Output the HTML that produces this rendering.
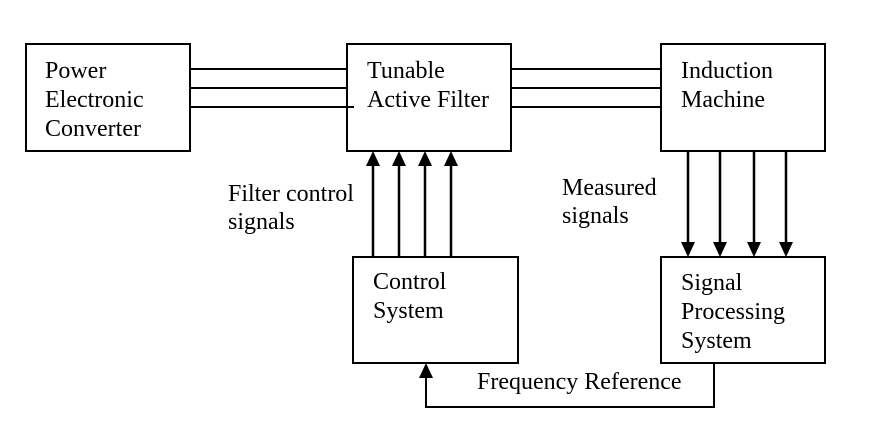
<!DOCTYPE html>
<html><head><style>
body{margin:0;background:#fff;}
svg text{font-family:"Liberation Serif",serif;font-size:24px;fill:#000;}
</style></head><body>
<svg width="871" height="427" viewBox="0 0 871 427" xmlns="http://www.w3.org/2000/svg">
<g fill="none" stroke="#000" stroke-width="2">
<rect x="26" y="44" width="164" height="107"/>
<rect x="347" y="44" width="164" height="107"/>
<rect x="661" y="44" width="164" height="107"/>
<rect x="353" y="257" width="165" height="106"/>
<rect x="661" y="257" width="164" height="106"/>
<path d="M190,69H347M190,88H347M190,107H354M511,69H661M511,88H661M511,107H661"/>
<path d="M714,363V407H426V378"/>
</g>
<g fill="none" stroke="#000" stroke-width="2.5">
<path d="M373,257V165M399,257V165M425,257V165M451,257V165"/>
<path d="M688,151V243M720,151V243M754,151V243M786,151V243"/>
</g>
<g fill="#000">
<path d="M366,166L373,151L380,166z"/><path d="M392,166L399,151L406,166z"/><path d="M418,166L425,151L432,166z"/><path d="M444,166L451,151L458,166z"/>
<path d="M681,242L688,257L695,242z"/><path d="M713,242L720,257L727,242z"/><path d="M747,242L754,257L761,242z"/><path d="M779,242L786,257L793,242z"/>
<path d="M419,378L426,363L433,378z"/>
</g>
<text x="45" y="78">Power</text>
<text x="45" y="107">Electronic</text>
<text x="45" y="136">Converter</text>
<text x="367" y="78">Tunable</text>
<text x="367" y="107">Active Filter</text>
<text x="681" y="78">Induction</text>
<text x="681" y="107">Machine</text>
<text x="228" y="201">Filter control</text>
<text x="228" y="229">signals</text>
<text x="562" y="195">Measured</text>
<text x="562" y="223">signals</text>
<text x="373" y="289">Control</text>
<text x="373" y="318">System</text>
<text x="681" y="290">Signal</text>
<text x="681" y="319">Processing</text>
<text x="681" y="348">System</text>
<text x="477" y="389">Frequency Reference</text>
</svg>
</body></html>
